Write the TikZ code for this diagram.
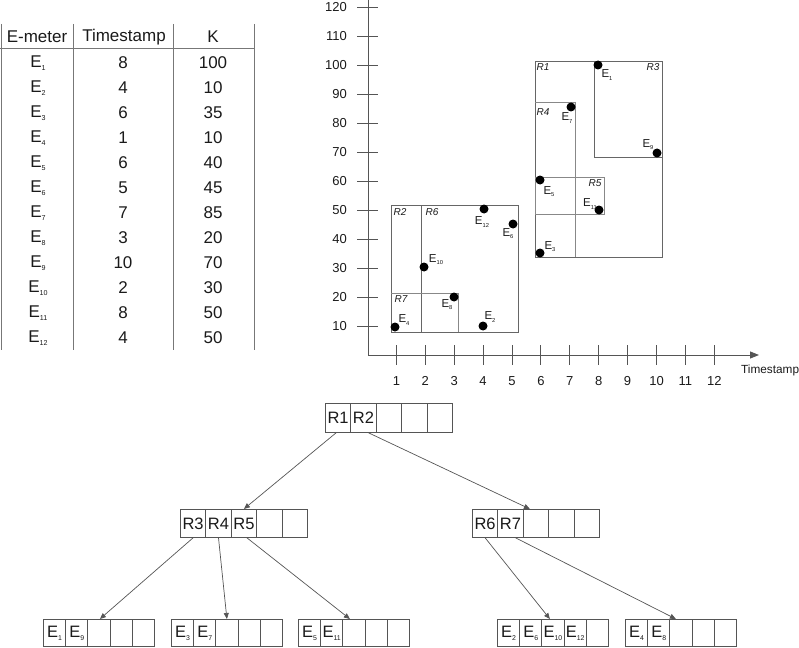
\documentclass[tikz,border=0pt]{standalone}
\usepackage{fontspec}
\setmainfont{Liberation Sans}
\usepackage{graphicx}
\usetikzlibrary{arrows.meta}
\newcommand\Esub[2][0.42]{E\raisebox{-0.35ex}{\scalebox{#1}{#2}}}
\newcommand\cellrow[6]{%
  \foreach \c [count=\i] in {#6} {
    \node[cell, minimum width=#4pt, minimum height=#5pt, anchor=north west]
      (#1-\i) at ({#2+(\i-1)*#4},#3) {\c};
  }}
\definecolor{ln}{HTML}{555555}
\definecolor{tx}{HTML}{1A1A1A}
\tikzset{
  every node/.style={inner sep=0pt, text=tx, font=\fontsize{17}{18}\selectfont},
  tabline/.style={draw=ln!80, line width=1pt},
  axisline/.style={draw=ln, line width=0.9pt},
  tickline/.style={draw=ln, line width=0.9pt},
  ticklab/.style={font=\fontsize{13}{14}\selectfont},
  region/.style={draw=ln!90, line width=0.9pt},
  subregion/.style={draw=ln!70, line width=0.8pt},
  dot/.style={circle, fill=black, minimum size=9pt},
  plab/.style={font=\fontsize{11.5}{12}\selectfont},
  rlab/.style={font=\fontsize{10}{11}\selectfont\itshape},
  cell/.style={draw=ln, line width=0.8pt, font=\fontsize{16.5}{17}\selectfont},
  conn/.style={draw=ln, line width=0.7pt, -{Triangle[length=6pt,width=5pt]}},
}
\begin{document}
\begin{tikzpicture}[x=1pt,y=-1pt]
\useasboundingbox (0,0) rectangle (799,647);
% ---------------- table ----------------
\foreach \x in {1,73,173,254} \draw[tabline] (\x,24) -- (\x,350);
\draw[tabline] (0,49) -- (254,49);
\node (hE) at (37,37) {E-meter};
\node (hT) at (124,37) {Timestamp};
\node (hK) at (213,37) {K};
\foreach \e/\t/\k [count=\n] in {1/8/100,2/4/10,3/6/35,4/1/10,5/6/40,6/5/45,7/7/85,8/3/20,9/10/70,10/2/30,11/8/50,12/4/50} {
  \node (te\n) at (38,{63+25*(\n-1)}) {\Esub{\e}};
  \node (tt\n) at (123,{63+25*(\n-1)}) {\t};
  \node (tk\n) at (213,{63+25*(\n-1)}) {\k};
}
% ---------------- axes ----------------
\draw[axisline] (368,355) -- (368,0);
\draw[axisline, -{Triangle[length=9pt,width=7pt]}] (368,355) -- (759,355);
\foreach \v in {10,20,...,120} {
  \draw[tickline] (357,{355-2.9*\v}) -- (378,{355-2.9*\v});
  \node[ticklab, anchor=east] (yl\v) at (347,{355-2.9*\v}) {\v};
}
\foreach \t in {1,...,12} {
  \draw[tickline] ({367.5+28.9*\t},345) -- ({367.5+28.9*\t},365);
  \node[ticklab] (xl\t) at ({367.5+28.9*\t},381) {\t};
}
\node[font=\fontsize{11.8}{12}\selectfont, anchor=west] (xname) at (741,370) {Timestamp};
% ---------------- regions ----------------
\draw[region] (535,61) rectangle (662,257);
\draw[region] (594,61) |- (662,157);
\draw[subregion] (575,102) -- (535,102);
\draw[subregion] (575,102) -- (575,257);
\draw[subregion] (535,177) rectangle (604,214);
\draw[region] (391,205) rectangle (518,332);
\draw[region] (421,205) -- (421,332);
\draw[subregion] (391,293) -| (458,332);
\node[rlab] (r1) at (543,67) {R1};
\node[rlab] (r3) at (653,67) {R3};
\node[rlab] (r4) at (543,112) {R4};
\node[rlab] (r5) at (595,183) {R5};
\node[rlab] (r2) at (400,212) {R2};
\node[rlab] (r6) at (432,212) {R6};
\node[rlab] (r7) at (401,299) {R7};
% ---------------- points ----------------
\node[dot] (p1) at (598,65) {};
\node[dot] (p2) at (483,326) {};
\node[dot] (p3) at (540,253) {};
\node[dot] (p4) at (395,327) {};
\node[dot] (p5) at (540,180) {};
\node[dot] (p6) at (513,224) {};
\node[dot] (p7) at (571,107) {};
\node[dot] (p8) at (454,297) {};
\node[dot] (p9) at (657,153) {};
\node[dot] (p10) at (424,267) {};
\node[dot] (p11) at (599,210) {};
\node[dot] (p12) at (484,209) {};
\node[plab] (l1) at (607,75) {\Esub[0.5]{1}};
\node[plab] (l2) at (490,317) {\Esub[0.5]{2}};
\node[plab] (l3) at (550,247) {\Esub[0.5]{3}};
\node[plab] (l4) at (404,320) {\Esub[0.5]{4}};
\node[plab] (l5) at (549,192) {\Esub[0.5]{5}};
\node[plab] (l6) at (508,234) {\Esub[0.5]{6}};
\node[plab] (l7) at (567,118) {\Esub[0.5]{7}};
\node[plab] (l8) at (447,305) {\Esub[0.5]{8}};
\node[plab] (l9) at (648,145) {\Esub[0.5]{9}};
\node[plab] (l10) at (436,260) {\Esub[0.5]{10}};
\node[plab] (l11) at (590,204) {\Esub[0.5]{11}};
\node[plab] (l12) at (482,222) {\Esub[0.5]{12}};
% ---------------- tree ----------------
\cellrow{root}{325}{403}{25.4}{29}{{R1},{R2},{},{},{}}
\cellrow{na}{180}{509}{25.4}{28}{{R3},{R4},{R5},{},{}}
\cellrow{nb}{472}{509}{25.4}{28}{{R6},{R7},{},{},{}}
\cellrow{la}{43}{619}{22.2}{27}{{\Esub{1}},{\Esub{9}},{},{},{}}
\cellrow{lb}{171}{619}{22.2}{27}{{\Esub{3}},{\Esub{7}},{},{},{}}
\cellrow{lc}{298}{619}{22.2}{27}{{\Esub{5}},{\Esub{11}},{},{},{}}
\cellrow{ld}{497}{619}{22.2}{27}{{\Esub{2}},{\Esub{6}},{\Esub{10}},{\Esub{12}},{}}
\cellrow{le}{625}{619}{22.2}{27}{{\Esub{4}},{\Esub{8}},{},{},{}}
\draw[conn] ([xshift=-2pt]root-1.south) -- (na-3.north);
\draw[conn] ([xshift=5pt]root-2.south) -- ([xshift=-6pt]nb-3.north);
\draw[conn] (na-1.south) -- ([xshift=1pt]la-3.north);
\draw[conn] (na-2.south) -- (lb-3.north);
\draw[conn] ([xshift=3pt]na-3.south) -- ([xshift=-4pt]lc-3.north);
\draw[conn] (nb-1.south) -- ([xshift=-3pt]ld-3.north);
\draw[conn] ([xshift=5pt]nb-2.south) -- ([xshift=-5pt]le-3.north);
\end{tikzpicture}
\end{document}
